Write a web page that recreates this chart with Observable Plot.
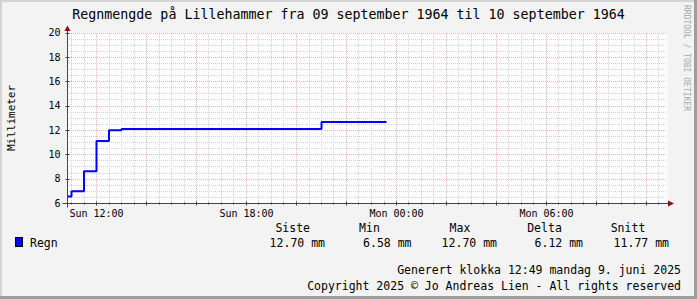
<!DOCTYPE html>
<html><head><meta charset="utf-8">
<script src="https://cdn.jsdelivr.net/npm/d3@7"></script>
<script src="https://cdn.jsdelivr.net/npm/@observablehq/plot@0.6"></script>
<style>
html,body{margin:0;padding:0;background:#f3f3f3;}
#wrap{position:relative;width:697px;height:299px;background:#f3f3f3;overflow:hidden;font-family:"DejaVu Sans Mono",monospace;}
#wrap svg{position:absolute;left:0;top:0;}
</style></head><body><div id="wrap"></div>
<script>
const title = "Regnmengde på Lillehammer fra 09 september 1964 til 10 september 1964";
const yLabel = "Millimeter";
const watermark = "RRDTOOL / TOBI OETIKER";
// hours since Sunday 00:00
const times = [10.84, 11.0, 11.5, 12.0, 12.5, 13.0, 21.0, 23.6];
const values = [6.58, 7.0, 8.65, 11.13, 12.02, 12.12, 12.70, 12.70];
const xDomain = [10.84, 34.84];
const yDomain = [6, 20];
const xTicks = [12, 18, 24, 30];
const xTickLabels = ["Sun 12:00", "Sun 18:00", "Mon 00:00", "Mon 06:00"];
const yTicks = [6, 8, 10, 12, 14, 16, 18, 20];
const seriesName = "Regn";
const seriesColor = "#0000ff";
const legendHeaders = ["Siste", "Min", "Max", "Delta", "Snitt"];
const legendValues = ["12.70 mm", "6.58 mm", "12.70 mm", "6.12 mm", "11.77 mm"];
const footer = ["Generert klokka 12:49 mandag 9. juni 2025", "Copyright 2025 © Jo Andreas Lien - All rights reserved"];

const data = times.map((t, i) => ({t, v: values[i]}));
const minorX = d3.range(11, xDomain[1], 0.5).filter(v => v % 2 !== 0);
const majorX = d3.range(12, xDomain[1], 2);
const minorY = d3.range(6.5, 20.01, 0.5).filter(v => v % 2 !== 0);
const majorY = yTicks.slice(1);

function gridMark(index, scales, vals, dims) {
  const l = dims.marginLeft, t = Math.round(dims.marginTop);
  const r = dims.width - dims.marginRight, b = dims.height - dims.marginBottom;
  const g = d3.create("svg:g").attr("shape-rendering", "crispEdges");
  const vline = (v, c) => {
    const px = Math.round(scales.x(v)) + 0.5;
    g.append("line").attr("x1", px).attr("x2", px).attr("y1", b).attr("y2", t).attr("stroke", c).attr("stroke-dasharray", "1,1");
  };
  const hline = (v, c) => {
    const py = Math.round(scales.y(v)) + 0.5;
    g.append("line").attr("x1", l).attr("x2", r).attr("y1", py).attr("y2", py).attr("stroke", c).attr("stroke-dasharray", "1,1");
  };
  minorX.forEach(v => vline(v, "#d2d2d2"));
  minorY.forEach(v => hline(v, "#d2d2d2"));
  majorX.forEach(v => vline(v, "#ebb5b5"));
  majorY.forEach(v => hline(v, "#ebb5b5"));
  return g.node();
}

function axesMark(index, scales, vals, dims) {
  const l = dims.marginLeft, t = dims.marginTop;
  const r = dims.width - dims.marginRight, b = dims.height - dims.marginBottom;
  const X0 = l + 0.5, Y0 = b + 0.5;
  const g = d3.create("svg:g");
  const ax = "#454545", ar = "#7f1010";
  for (const v of majorX) {
    const px = Math.round(scales.x(v)) + 0.5;
    g.append("line").attr("x1", px).attr("x2", px).attr("y1", Y0 - 2).attr("y2", Y0 + 2).attr("stroke", ax);
  }
  for (const v of minorX) {
    const px = Math.round(scales.x(v)) + 0.5;
    g.append("line").attr("x1", px).attr("x2", px).attr("y1", Y0 - 1).attr("y2", Y0 + 1).attr("stroke", ax);
  }
  for (const v of yTicks) {
    const py = Math.round(scales.y(v)) + 0.5;
    g.append("line").attr("x1", X0 - 2).attr("x2", X0 + 2).attr("y1", py).attr("y2", py).attr("stroke", ax);
  }
  g.append("line").attr("x1", X0).attr("x2", X0).attr("y1", Y0 + 4).attr("y2", t - 2).attr("stroke", ax);
  g.append("line").attr("x1", X0 - 5).attr("x2", r + 1).attr("y1", Y0).attr("y2", Y0).attr("stroke", ax);
  g.append("path").attr("d", `M${X0 - 3},${t - 1.5}L${X0 + 3},${t - 1.5}L${X0},${t - 7}Z`).attr("fill", ar);
  g.append("path").attr("d", `M${r + 1},${Y0 - 3}L${r + 1},${Y0 + 3}L${r + 7},${Y0}Z`).attr("fill", ar);
  return g.node();
}

const chart = Plot.plot({
  width: 697, height: 299,
  marginLeft: 67, marginRight: 30, marginTop: 32.5, marginBottom: 96,
  style: {background: "transparent", fontFamily: "DejaVu Sans Mono", fontSize: "10px", color: "#000"},
  x: {type: "linear", domain: xDomain, label: null},
  y: {domain: yDomain, label: null},
  marks: [
    Plot.frame({fill: "#ffffff", stroke: "none"}),
    gridMark,
    Plot.line(data, {x: "t", y: "v", curve: "step-after", stroke: seriesColor, strokeWidth: 2, strokeLinejoin: "miter", strokeLinecap: "butt"}),
    axesMark,
    Plot.axisX({ticks: xTicks, tickFormat: d => xTickLabels[xTicks.indexOf(d)], tickSize: 0, tickPadding: 6, label: null, fontSize: 10}),
    Plot.axisY({ticks: yTicks, tickSize: 0, tickPadding: 7, label: null, fontSize: 10})
  ]
});
const wrap = document.getElementById("wrap");
wrap.appendChild(chart);

const ov = d3.select(wrap).append("svg").attr("width", 697).attr("height", 299)
  .style("font-family", "'DejaVu Sans Mono', monospace");
ov.append("rect").attr("x", 0).attr("y", 0).attr("width", 697).attr("height", 2).attr("fill", "#d4d4d4");
ov.append("rect").attr("x", 0).attr("y", 0).attr("width", 2).attr("height", 299).attr("fill", "#d4d4d4");
ov.append("rect").attr("x", 694).attr("y", 0).attr("width", 3).attr("height", 299).attr("fill", "#9e9e9e");
ov.append("rect").attr("x", 0).attr("y", 296).attr("width", 697).attr("height", 3).attr("fill", "#9e9e9e");

ov.append("text").attr("x", 348.5).attr("y", 18.5).attr("text-anchor", "middle").attr("font-size", 13.3).attr("fill", "#000").text(title);
ov.append("text").attr("transform", "translate(15,118) rotate(-90)").attr("text-anchor", "middle").attr("font-size", 11).attr("fill", "#000").text(yLabel);
ov.append("text").attr("transform", "translate(684,5) rotate(90)").attr("text-anchor", "start").attr("font-size", 8).attr("fill", "#a8a8a8").text(watermark);

ov.append("rect").attr("x", 15.5).attr("y", 237.5).attr("width", 7).attr("height", 9).attr("fill", seriesColor).attr("stroke", "#000").attr("stroke-width", 1);
ov.append("text").attr("x", 30).attr("y", 247).attr("font-size", 11.5).attr("fill", "#000").text(seriesName);
const headerX = [292.7, 369.5, 460, 544.5, 628];
const valueX = [325, 411.5, 497, 583, 669];
legendHeaders.forEach((h, i) => {
  ov.append("text").attr("x", headerX[i]).attr("y", 232).attr("text-anchor", "middle").attr("font-size", 11.5).attr("fill", "#000").text(h);
  ov.append("text").attr("x", valueX[i]).attr("y", 247).attr("text-anchor", "end").attr("font-size", 11.5).attr("fill", "#000").text(legendValues[i]);
});
footer.forEach((f, i) => {
  ov.append("text").attr("x", 681).attr("y", 274 + i * 15.5).attr("text-anchor", "end").attr("font-size", 11.5).attr("fill", "#000").text(f);
});
</script></body></html>
